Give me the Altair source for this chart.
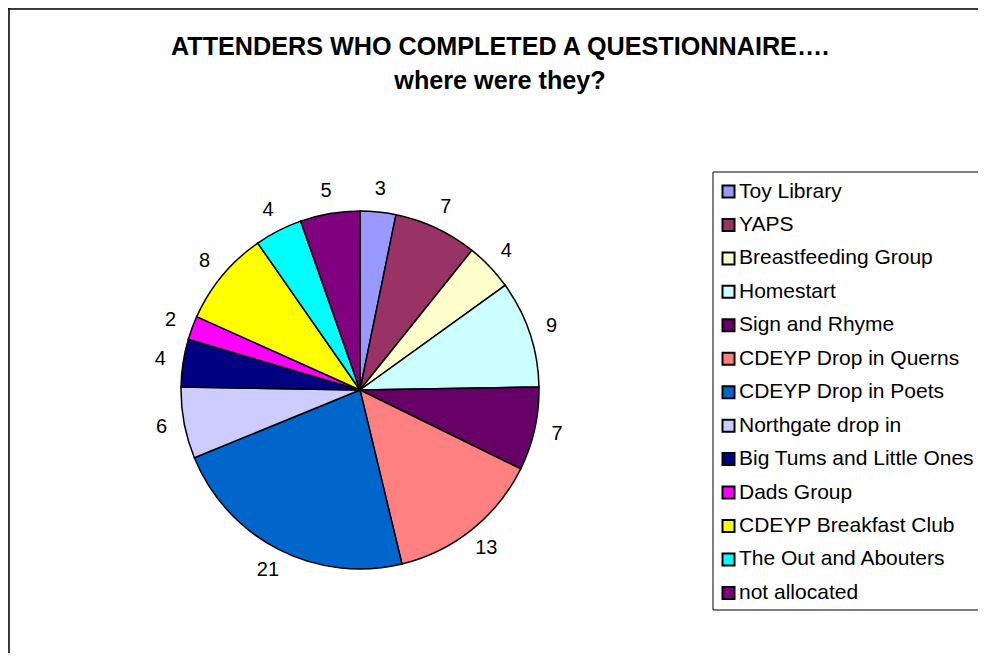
import altair as alt
import pandas as pd

categories = [
    "Toy Library", "YAPS", "Breastfeeding Group", "Homestart", "Sign and Rhyme",
    "CDEYP Drop in Querns", "CDEYP Drop in Poets", "Northgate drop in",
    "Big Tums and Little Ones", "Dads Group", "CDEYP Breakfast Club",
    "The Out and Abouters", "not allocated",
]
values = [3, 7, 4, 9, 7, 13, 21, 6, 4, 2, 8, 4, 5]
colors = [
    "#9999FF", "#993366", "#FFFFCC", "#CCFFFF", "#660066", "#FF8080", "#0066CC",
    "#CCCCFF", "#000080", "#FF00FF", "#FFFF00", "#00FFFF", "#800080",
]
title_lines = ["ATTENDERS WHO COMPLETED A QUESTIONNAIRE….", "where were they?"]

FONT = "Liberation Sans"

df = pd.DataFrame({"location": categories, "count": values, "order": list(range(len(categories)))})
one = pd.DataFrame({"k": [0]})

CX, CY, R = 352, 382, 179

base = alt.Chart(df).encode(
    theta=alt.Theta("count:Q", stack=True),
    order=alt.Order("order:Q"),
)

pie = base.mark_arc(outerRadius=R, stroke="black", strokeWidth=1.5).encode(
    color=alt.Color(
        "location:N",
        scale=alt.Scale(domain=categories, range=colors),
        sort=categories,
        legend=alt.Legend(
            orient="none", legendX=710, legendY=173, title=None,
            symbolType="square", symbolSize=144, symbolStrokeColor="black",
            symbolStrokeWidth=2, symbolOpacity=1,
            labelFont=FONT, labelFontSize=21, labelColor="black",
            labelOffset=0, rowPadding=11.45, padding=0, labelLimit=400,
        ),
    ),
    x=alt.value(CX),
    y=alt.value(CY),
)

labels = base.mark_text(radius=202, fontSize=20, font=FONT, color="black").encode(
    text="count:Q",
    x=alt.value(CX),
    y=alt.value(CY),
)

frame_left = alt.Chart(one).mark_rule(color="black", strokeWidth=1.5).encode(
    x=alt.value(1), y=alt.value(0), y2=alt.value(700)
)
frame_top = alt.Chart(one).mark_rule(color="black", strokeWidth=1.5).encode(
    x=alt.value(0), x2=alt.value(1000), y=alt.value(1)
)

legend_box = alt.Chart(one).mark_rect(fill="white", stroke="black", strokeWidth=1).encode(
    x=alt.value(705), x2=alt.value(1000), y=alt.value(164), y2=alt.value(602)
)

title = alt.Chart(one).mark_text(
    text=title_lines, font=FONT, fontSize=25.2, fontWeight="bold",
    align="center", baseline="alphabetic", lineHeight=34, color="black",
).encode(x=alt.value(492), y=alt.value(47))

chart = alt.layer(frame_left, frame_top, legend_box, pie, labels, title).properties(
    width=970, height=645, padding=0, autosize="none"
).configure_view(stroke=None).configure(font=FONT)

chart.save("out.html", embed_options={"renderer": "svg", "actions": False})
